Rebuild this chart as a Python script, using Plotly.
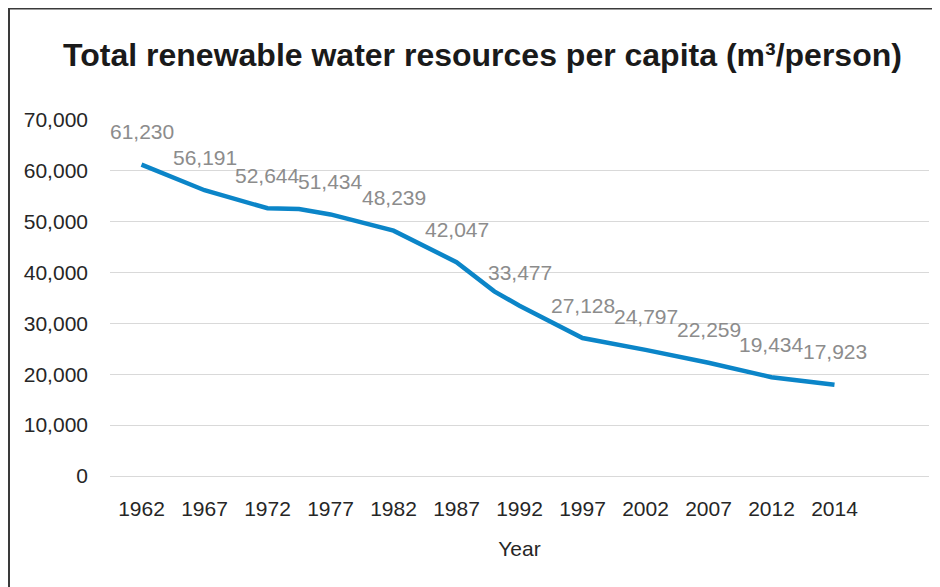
import numpy as np
import plotly.graph_objects as go

# ---- data ----
years = ["1962", "1967", "1972", "1977", "1982", "1987",
         "1992", "1997", "2002", "2007", "2012", "2014"]
values = [61230, 56191, 52644, 51434, 48239, 42047,
          33477, 27128, 24797, 22259, 19434, 17923]
# unlabelled vertices visible on the line between labelled years
extra_years = [1974.5, 1990.0]
extra_values = [52500, 36300]
y_ticks = [0, 10000, 20000, 30000, 40000, 50000, 60000, 70000]

title_text = "<b>Total renewable water resources per capita (m³/person)</b>"

# ---- build ----
label_years = np.array([int(y) for y in years], dtype=float)
idx = np.arange(len(years), dtype=float)
extra_idx = np.interp(extra_years, label_years, idx)
lx = np.concatenate([idx, extra_idx])
ly = np.concatenate([np.array(values, float), np.array(extra_values, float)])
order = np.argsort(lx)
lx, ly = lx[order], ly[order]

FONT = "Liberation Sans, Arial, sans-serif"
W, H = 932, 579          # page body adds an 8px margin
L, R, T, B = 102, 921, 112, 468   # plot area in figure pixels

fig = go.Figure()
fig.add_trace(go.Scatter(
    x=lx, y=ly, mode="lines",
    line=dict(color="#0b85c8", width=4.5, shape="linear"),
    hoverinfo="skip", showlegend=False,
))

annotations = []
for i, v in enumerate(values):
    annotations.append(dict(
        x=i, y=v, xref="x", yref="y", text=f"{v:,}", showarrow=False,
        yshift=33, font=dict(family=FONT, size=21, color="#8c8c8c"),
        xanchor="center", yanchor="middle",
    ))

def px(xp):
    return (xp - L) / (R - L)
def py(yp):
    return (B - yp) / (B - T)

shapes = [dict(
    type="path", xref="paper", yref="paper",
    path=f"M {px(1)},{py(H + 20)} L {px(1)},{py(0.5)} L {px(W + 20)},{py(0.5)}",
    line=dict(color="#3a3a3a", width=2),
)]

fig.update_layout(
    width=W, height=H,
    margin=dict(l=L, r=W - R, t=T, b=H - B),
    paper_bgcolor="white", plot_bgcolor="white",
    font=dict(family=FONT, size=21, color="#262626"),
    title=dict(text=title_text, x=474.5 / W, xref="container", xanchor="center",
               y=1 - 47 / H, yref="container", yanchor="middle",
               font=dict(family=FONT, size=32, color="#1a1a1a")),
    annotations=annotations,
    shapes=shapes,
    xaxis=dict(
        range=[-0.5, 12.5], tickmode="array", tickvals=list(range(len(years))),
        ticktext=years, showgrid=False, zeroline=False, showline=False,
        ticks="", ticklabelstandoff=18,
        tickfont=dict(family=FONT, size=21, color="#262626"),
        title=dict(text="Year", standoff=22,
                   font=dict(family=FONT, size=21, color="#262626")),
    ),
    yaxis=dict(
        range=[0, 70000], tickmode="array", tickvals=y_ticks,
        tickformat=",d", showgrid=True, gridcolor="#d9d9d9", gridwidth=1,
        zeroline=True, zerolinecolor="#d9d9d9", zerolinewidth=1,
        showline=False, ticks="", ticklabelstandoff=21,
        tickfont=dict(family=FONT, size=21, color="#262626"),
    ),
)

fig.write_html("out.html")
